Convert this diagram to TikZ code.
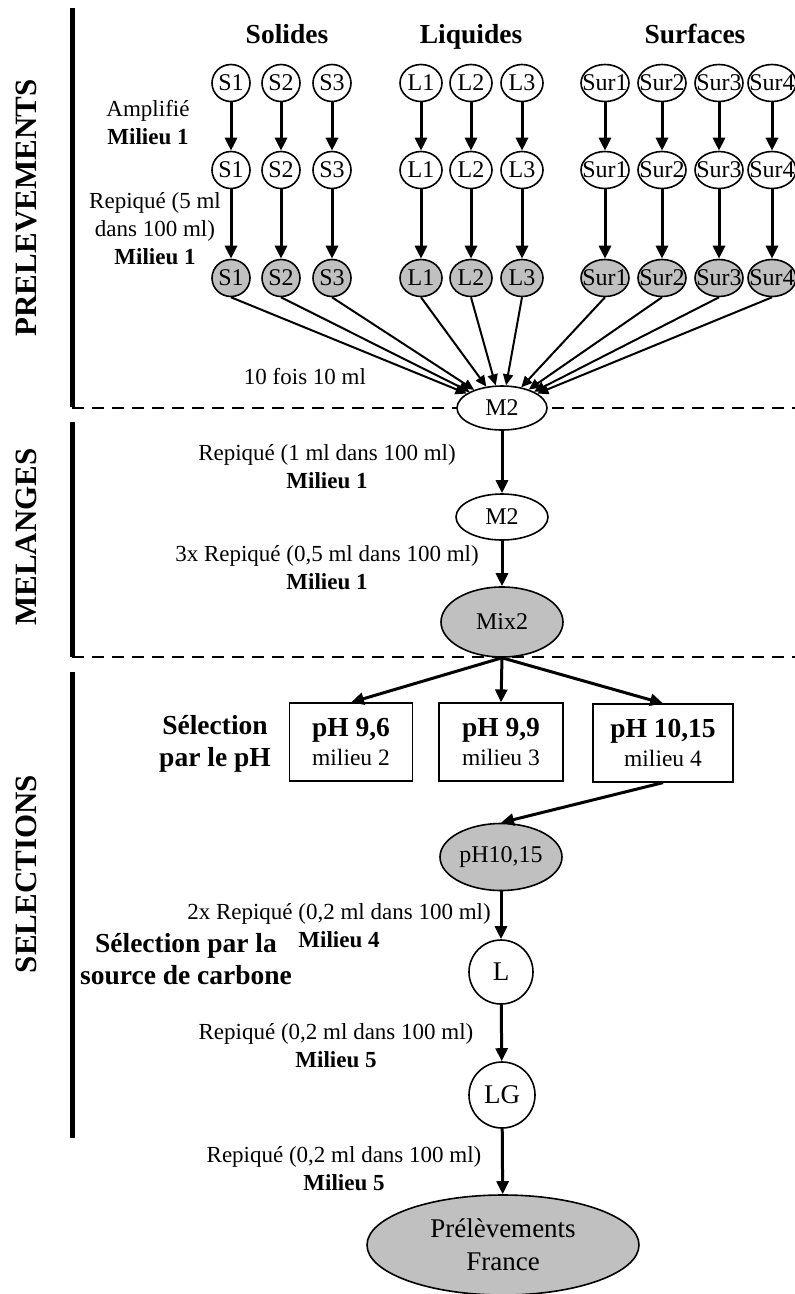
\documentclass[tikz,border=0pt]{standalone}
\usepackage{fontspec}
\setmainfont{Liberation Serif}
\usepackage{xcolor}
\definecolor{ink}{HTML}{000000}
\definecolor{shade}{HTML}{C0C0C0}
\usepackage{tikz}
\usetikzlibrary{arrows.meta,positioning,shapes.geometric}
\tikzset{
  every picture/.style={line width=1.6pt},
  smp/.style={ellipse, draw=ink, fill=white, inner sep=0pt, minimum width=#1, minimum height=37pt, font=\fontsize{24}{27}\selectfont},
  smp/.default=38pt,
  done/.style={smp=#1, fill=shade},
  done/.default=38pt,
  phbox/.style={draw=ink, line width=1.2pt, fill=white, align=center, minimum width=#1, minimum height=78pt, inner sep=2pt, font=\fontsize{23.5}{29}\selectfont},
  phbox/.default=123pt,
  head/.style={font=\fontsize{27.5}{30}\selectfont\bfseries, anchor=base},
  note/.style={font=\fontsize{23}{28}\selectfont, align=center},
  strong/.style={font=\fontsize{27.5}{32}\selectfont\bfseries, align=center},
  phase/.style={font=\fontsize{31}{31}\selectfont\bfseries, rotate=90},
  arrow/.style={-{Triangle[length=13pt,width=12pt]}, line width=3pt, draw=ink},
  fan/.style={-{Triangle[length=11pt,width=10pt]}, line width=2pt, draw=ink},
  bar/.style={line width=5pt, draw=ink},
  split/.style={dash pattern=on 12pt off 8pt, line width=2.5pt, draw=ink},
}
\newcommand{\inell}[1]{\makebox[0pt]{#1}}

\begin{document}
\begin{tikzpicture}[x=1pt, y=-1pt,
    pool/.style={ellipse, draw=ink, fill=white, inner sep=0pt, font=\fontsize{24}{27}\selectfont},
    culture/.style={circle, draw=ink, fill=white, inner sep=0pt, minimum size=#1, font=\fontsize{27}{30}\selectfont}]
  \useasboundingbox (0,0) rectangle (795,1294);
  % phases
  \draw[bar] (72,8) -- (72,407);
  \draw[bar] (72,422) -- (72,657);
  \draw[bar] (72,672) -- (72,1138);
  \draw[split] (72,408) -- (795,408);
  \draw[split] (72,657) -- (795,657);
  \node[phase] (prelev) at (26,208) {PRELEVEMENTS};
  \node[phase] (melang) at (26,537) {MELANGES};
  \node[phase] (select) at (26,874) {SELECTIONS};
  % prelevements
  \node[head] (solides) at (287,43) {Solides};
  \node[head] (liquides) at (471,43) {Liquides};
  \node[head] (surfaces) at (695,43) {Surfaces};
  \node[smp] (s1a) at (231,83) {\inell{S1}};
  \node[smp] (s2a) at (281,83) {\inell{S2}};
  \node[smp] (s3a) at (332,83) {\inell{S3}};
  \node[smp=42pt] (l1a) at (421,83) {\inell{L1}};
  \node[smp=42pt] (l2a) at (471,83) {\inell{L2}};
  \node[smp=42pt] (l3a) at (522,83) {\inell{L3}};
  \node[smp=48pt] (sur1a) at (605,83) {\inell{Sur1}};
  \node[smp=48pt] (sur2a) at (662,83) {\inell{Sur2}};
  \node[smp=48pt] (sur3a) at (719,83) {\inell{Sur3}};
  \node[smp=48pt] (sur4a) at (772,83) {\inell{Sur4}};
  \node[smp] (s1b) at (231,170) {\inell{S1}};
  \node[smp] (s2b) at (281,170) {\inell{S2}};
  \node[smp] (s3b) at (332,170) {\inell{S3}};
  \node[smp=42pt] (l1b) at (421,170) {\inell{L1}};
  \node[smp=42pt] (l2b) at (471,170) {\inell{L2}};
  \node[smp=42pt] (l3b) at (522,170) {\inell{L3}};
  \node[smp=48pt] (sur1b) at (605,170) {\inell{Sur1}};
  \node[smp=48pt] (sur2b) at (662,170) {\inell{Sur2}};
  \node[smp=48pt] (sur3b) at (719,170) {\inell{Sur3}};
  \node[smp=48pt] (sur4b) at (772,170) {\inell{Sur4}};
  \node[done] (s1c) at (231,278) {\inell{S1}};
  \node[done] (s2c) at (281,278) {\inell{S2}};
  \node[done] (s3c) at (332,278) {\inell{S3}};
  \node[done=42pt] (l1c) at (421,278) {\inell{L1}};
  \node[done=42pt] (l2c) at (471,278) {\inell{L2}};
  \node[done=42pt] (l3c) at (522,278) {\inell{L3}};
  \node[done=48pt] (sur1c) at (605,278) {\inell{Sur1}};
  \node[done=48pt] (sur2c) at (662,278) {\inell{Sur2}};
  \node[done=48pt] (sur3c) at (719,278) {\inell{Sur3}};
  \node[done=48pt] (sur4c) at (772,278) {\inell{Sur4}};
  \draw[arrow] (s1a) -- (s1b); \draw[arrow] (s1b) -- (s1c);
  \draw[arrow] (s2a) -- (s2b); \draw[arrow] (s2b) -- (s2c);
  \draw[arrow] (s3a) -- (s3b); \draw[arrow] (s3b) -- (s3c);
  \draw[arrow] (l1a) -- (l1b); \draw[arrow] (l1b) -- (l1c);
  \draw[arrow] (l2a) -- (l2b); \draw[arrow] (l2b) -- (l2c);
  \draw[arrow] (l3a) -- (l3b); \draw[arrow] (l3b) -- (l3c);
  \draw[arrow] (sur1a) -- (sur1b); \draw[arrow] (sur1b) -- (sur1c);
  \draw[arrow] (sur2a) -- (sur2b); \draw[arrow] (sur2b) -- (sur2c);
  \draw[arrow] (sur3a) -- (sur3b); \draw[arrow] (sur3b) -- (sur3c);
  \draw[arrow] (sur4a) -- (sur4b); \draw[arrow] (sur4b) -- (sur4c);
  \node[note] (amplif) at (148,123) {Amplifié\\\textbf{Milieu 1}};
  \node[note] (repiq5) at (155,229) {Repiqué (5 ml\\dans 100 ml)\\\textbf{Milieu 1}};
  \node[note] (dix) at (305,377) {10 fois 10 ml};
  % melanges
  \node[pool, minimum width=90pt, minimum height=44pt] (m2a) at (502,408) {M2};
  \draw[fan] (s1c.south) -- (m2a); \draw[fan] (s2c.south) -- (m2a); \draw[fan] (s3c.south) -- (m2a);
  \draw[fan] (l1c.south) -- (m2a); \draw[fan] (l2c.south) -- (m2a); \draw[fan] (l3c.south) -- (m2a);
  \draw[fan] (sur1c.south) -- (m2a); \draw[fan] (sur2c.south) -- (m2a);
  \draw[fan] (sur3c.south) -- (m2a); \draw[fan] (sur4c.south) -- (m2a);
  \node[pool, minimum width=92pt, minimum height=46pt] (m2b) at (502,517) {M2};
  \node[pool, fill=shade, minimum width=122pt, minimum height=70pt] (mix) at (502,622) {Mix2};
  \draw[arrow] (m2a) -- (m2b);
  \draw[arrow] (m2b) -- (mix);
  \node[note] (repiq1) at (327,467) {Repiqué (1 ml dans 100 ml)\\\textbf{Milieu 1}};
  \node[note] (repiq05) at (327,568) {3x Repiqué (0,5 ml dans 100 ml)\\\textbf{Milieu 1}};
  % selections
  \node[phbox] (p96) at (351,742) {\textbf{\fontsize{27.5}{29}\selectfont pH 9,6}\\milieu 2};
  \node[phbox=124pt] (p99) at (501,742) {\textbf{\fontsize{27.5}{29}\selectfont pH 9,9}\\milieu 3};
  \node[phbox=140pt] (p1015) at (663,743) {\textbf{\fontsize{27.5}{29}\selectfont pH 10,15}\\milieu 4};
  \draw[arrow] (mix.south) -- (p96.north);
  \draw[arrow] (mix.south) -- (p99.north);
  \draw[arrow] (mix.south) -- (p1015.north);
  \node[strong] (selph) at (215,744) {Sélection\\par le pH};
  \node[pool, fill=shade, minimum width=122pt, minimum height=67pt] (phsel) at (501,857) {pH10,15};
  \draw[arrow] (p1015.south) -- (phsel.north);
  \node[culture=64pt] (lac) at (501,972) {L};
  \node[culture=66pt] (lg) at (502,1095) {LG};
  \node[pool, fill=shade, minimum width=272pt, minimum height=100pt, align=center, font=\fontsize{27}{33}\selectfont] (france) at (503,1245) {Prélèvements\\France};
  \draw[arrow] (phsel) -- (lac);
  \draw[arrow] (lac) -- (lg);
  \draw[arrow] (lg) -- (france);
  \node[note] (repiq02a) at (339,926) {2x Repiqué (0,2 ml dans 100 ml)\\\textbf{Milieu 4}};
  \node[strong] (selcarb) at (186,959) {Sélection par la\\source de carbone};
  \node[note] (repiq02b) at (336,1046) {Repiqué (0,2 ml dans 100 ml)\\\textbf{Milieu 5}};
  \node[note] (repiq02c) at (344,1169) {Repiqué (0,2 ml dans 100 ml)\\\textbf{Milieu 5}};
\end{tikzpicture}
\end{document}
